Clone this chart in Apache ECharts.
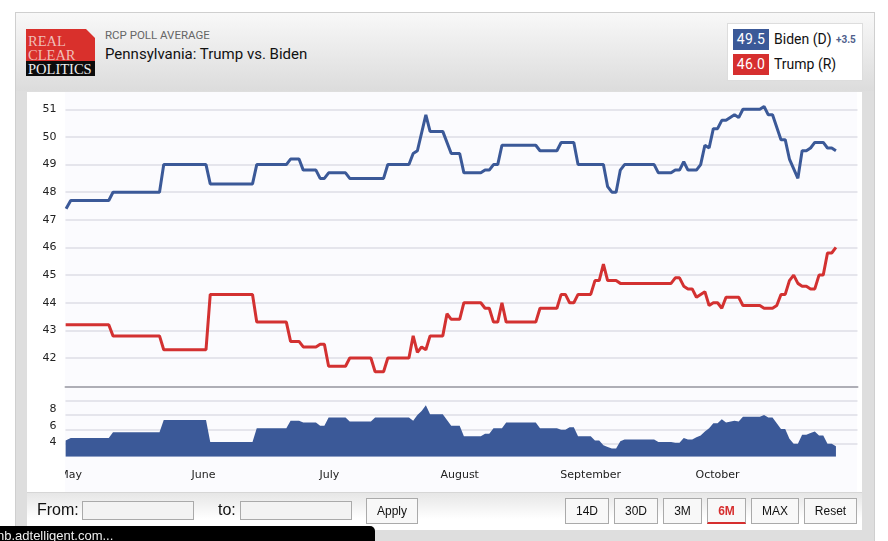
<!DOCTYPE html>
<html>
<head>
<meta charset="utf-8">
<title>Pennsylvania: Trump vs. Biden</title>
<script src="https://cdn.jsdelivr.net/npm/echarts@6/dist/echarts.min.js"></script>
<style>
  html, body { margin: 0; padding: 0; background: #fff; overflow: hidden; }
  #page { position: relative; width: 888px; height: 541px; overflow: hidden; font-family: Roboto, sans-serif; }
  #page div, #page span { position: absolute; box-sizing: border-box; white-space: nowrap; }
  #card { left: 15px; top: 12px; width: 860px; height: 540px; background: #dedede; border: 1px solid #cfcfcf; }
  #head { left: 16px; top: 13px; width: 858px; height: 78px; background: linear-gradient(#f8f8f8, #dcdcdc); }
  #panel { left: 27px; top: 92px; width: 835px; height: 400px; background: #fff; }
  #plotbg { left: 65px; top: 92px; width: 792px; height: 400px; background: #fbfbfe; }
  #foot { left: 27px; top: 492px; width: 835px; height: 38px; background: linear-gradient(#e6e6e6, #fff 70%); border-top: 1px solid #d6d6d6; }
  #chart { left: 0; top: 0; width: 888px; height: 541px; z-index: 1; }
  #maycover { left: 40px; top: 465px; width: 25px; height: 20px; background: #fff; z-index: 2; }
  #logo { left: 26px; top: 29px; width: 69px; height: 47px; background: linear-gradient(#d9302c 32px, #0c0c0c 32px); clip-path: polygon(0 0, 60px 0, 69px 9px, 69px 47px, 0 47px); font-family: "Liberation Serif", serif; font-size: 14.5px; color: #f0bdb8; }
  #logo span { left: 2px; line-height: 14px; }
  #sub { left: 105px; top: 28px; font-size: 11.5px; line-height: 14px; color: #666; }
  #title { left: 105px; top: 44px; font-size: 15px; line-height: 20px; color: #111; }
  #legend { left: 727px; top: 23px; width: 136px; height: 58px; background: #fff; border: 1px solid #ddd; z-index: 2; }
  .swatch { left: 5px; width: 36px; height: 21px; color: #fff; font-size: 14px; line-height: 21px; text-align: center; letter-spacing: 0.3px; }
  .cand { left: 46px; font-size: 14px; line-height: 21px; color: #111; }
  #lead { left: 108px; top: 9px; font-size: 10px; line-height: 14px; font-weight: bold; color: #4f608c; }
  #controls { left: 0; top: 0; width: 888px; height: 541px; z-index: 3; font-family: "Liberation Sans", sans-serif; }
  .lab { font-size: 16px; line-height: 20px; color: #111; top: 500px; }
  .inp { top: 501px; width: 112px; height: 19px; background: #f3f3f3; border: 1px solid #aaa; }
  .btn { top: 498px; height: 26px; background: #f8f8f8; border: 1px solid #aaa; font-size: 12px; line-height: 24px; text-align: center; color: #111; }
  #tip { left: 0; top: 526px; width: 375px; height: 20px; background: #000; border-radius: 0 5px 0 0; z-index: 4; color: #eee; font-family: "Liberation Sans", sans-serif; font-size: 13px; line-height: 19px; overflow: hidden; }
</style>
</head>
<body>
<div id="page">
  <div id="card"></div>
  <div id="head"></div>
  <div id="panel"></div>
  <div id="plotbg"></div>
  <div id="foot"></div>
  <div id="logo"><span style="top:5px">REAL</span><span style="top:19px">CLEAR</span><span style="top:33px;color:#eee">POLITICS</span></div>
  <div id="sub">RCP POLL AVERAGE</div>
  <div id="title">Pennsylvania: Trump vs. Biden</div>
  <div id="legend">
    <div class="swatch" style="top:5px;background:#3b5998">49.5</div>
    <div class="cand" style="top:5px">Biden (D)</div>
    <div id="lead">+3.5</div>
    <div class="swatch" style="top:30px;background:#d62f2f">46.0</div>
    <div class="cand" style="top:30px">Trump (R)</div>
  </div>
  <div id="chart"></div>
  <div id="maycover"></div>
  <div id="controls">
    <div class="lab" style="left:37px">From:</div>
    <div class="inp" style="left:82px"></div>
    <div class="lab" style="left:218px">to:</div>
    <div class="inp" style="left:240px"></div>
    <div class="btn" style="left:366px;width:52px">Apply</div>
    <div class="btn" style="left:565px;width:44px">14D</div>
    <div class="btn" style="left:614px;width:44px">30D</div>
    <div class="btn" style="left:663px;width:39px">3M</div>
    <div class="btn" style="left:707px;width:39px;color:#d62f2f;font-weight:bold;border-bottom:2px solid #d62f2f">6M</div>
    <div class="btn" style="left:751px;width:48px">MAX</div>
    <div class="btn" style="left:804px;width:53px">Reset</div>
  </div>
  <div id="tip"><span style="left:-3px;top:0">nb.adtelligent.com...</span></div>
</div>
<script>
// x values are days counted from the first poll point (Apr 30)
var monthDays = [1, 32.4, 62.2, 93, 124, 154];
var monthNames = ["May", "June", "July", "August", "September", "October"];
var mainTicks = [42, 43, 44, 45, 46, 47, 48, 49, 50, 51];
var spreadTicks = [4, 6, 8];
var spreadGrid = [3.75, 5.5, 7.3, 9.1];

var bidenDays = [-0.1, 1, 10, 11, 22, 23, 33, 34, 44, 45, 52, 53, 55, 56, 59, 60, 61, 62, 66, 67, 75, 76, 81, 82, 83, 85, 86, 89, 91, 93, 94, 98, 99, 100, 101, 102, 103, 111, 112, 116, 117, 120, 121, 127, 128, 129, 130, 131, 132, 139, 140, 143, 144, 145, 146, 147, 149, 150, 151, 152, 153, 154, 155, 156, 158, 159, 160, 164, 165, 166, 167, 169, 170, 171, 173, 174, 175, 176, 177, 179, 180, 181, 182];
var bidenValues = [47.4, 47.7, 47.7, 48, 48, 49, 49, 48.3, 48.3, 49, 49, 49.2, 49.2, 48.8, 48.8, 48.5, 48.5, 48.7, 48.7, 48.5, 48.5, 49, 49, 49.4, 49.5, 50.8, 50.2, 50.2, 49.4, 49.4, 48.7, 48.7, 48.8, 48.8, 49, 49, 49.7, 49.7, 49.5, 49.5, 49.8, 49.8, 49, 49, 48.2, 48, 48, 48.8, 49, 49, 48.7, 48.7, 48.8, 48.8, 49.1, 48.8, 48.8, 49, 49.7, 49.6, 50.3, 50.3, 50.6, 50.6, 50.8, 50.7, 51, 51, 51.1, 50.8, 50.8, 49.9, 49.9, 49.2, 48.5, 49.5, 49.5, 49.6, 49.8, 49.8, 49.6, 49.6, 49.5];

var trumpDays = [-0.2, 10, 11, 22, 23, 33, 34, 44, 45, 52, 53, 55, 56, 59, 60, 61, 62, 66, 67, 72, 73, 75, 76, 81, 82, 83, 84, 85, 86, 89, 90, 91, 93, 94, 98, 99, 100, 101, 102, 103, 104, 111, 112, 116, 117, 118, 119, 120, 121, 124, 125, 126, 127, 128, 130, 131, 143, 144, 145, 146, 147, 148, 149, 151, 152, 153, 154, 155, 156, 159, 160, 164, 165, 167, 168, 169, 170, 171, 172, 173, 174, 175, 176, 177, 178, 179, 180, 181, 182];
var trumpValues = [43.2, 43.2, 42.8, 42.8, 42.3, 42.3, 44.3, 44.3, 43.3, 43.3, 42.6, 42.6, 42.4, 42.4, 42.5, 42.5, 41.7, 41.7, 42, 42, 41.5, 41.5, 42, 42, 42.8, 42.2, 42.4, 42.3, 42.8, 42.8, 43.6, 43.4, 43.4, 44, 44, 43.8, 43.8, 43.3, 43.3, 44, 43.3, 43.3, 43.8, 43.8, 44.3, 44.3, 44, 44, 44.3, 44.3, 44.8, 44.8, 45.4, 44.8, 44.8, 44.7, 44.7, 44.9, 44.9, 44.6, 44.5, 44.5, 44.2, 44.4, 43.9, 44, 44, 43.8, 44.2, 44.2, 43.9, 43.9, 43.8, 43.8, 43.9, 44.3, 44.3, 44.8, 45, 44.7, 44.6, 44.6, 44.5, 44.5, 45, 45, 45.8, 45.8, 46];

var spreadDays = [-0.2, 1, 10, 11, 22, 23, 33, 34, 44, 45, 52, 53, 55, 56, 59, 60, 61, 62, 66, 67, 72, 73, 81, 82, 83, 84, 85, 86, 89, 91, 93, 94, 98, 99, 100, 101, 102, 103, 104, 111, 112, 116, 117, 118, 119, 120, 121, 124, 125, 126, 127, 128, 129, 130, 131, 132, 139, 140, 143, 144, 145, 146, 147, 148, 149, 150, 151, 152, 153, 154, 155, 156, 158, 159, 160, 164, 165, 166, 167, 169, 170, 171, 172, 173, 174, 175, 176, 177, 178, 179, 180, 181, 182];
var spreadValues = [4.2, 4.5, 4.5, 5.2, 5.2, 6.7, 6.7, 4, 4, 5.7, 5.7, 6.6, 6.6, 6.4, 6.4, 6, 6, 7, 7, 6.5, 6.5, 7, 7, 6.6, 7.3, 7.8, 8.5, 7.4, 7.4, 6, 6, 4.7, 4.7, 5, 5, 5.7, 5.7, 5.7, 6.4, 6.4, 5.7, 5.7, 5.5, 5.5, 5.8, 5.8, 4.7, 4.7, 4.2, 4.2, 3.6, 3.4, 3.2, 3.2, 4.1, 4.3, 4.3, 4, 4, 3.9, 3.9, 4.5, 4.3, 4.3, 4.6, 4.8, 5.3, 5.7, 6.3, 6.3, 6.8, 6.4, 6.6, 6.5, 7.1, 7.1, 7.3, 7, 7, 5.6, 5.6, 4.4, 3.8, 3.8, 4.9, 4.9, 5.1, 5.3, 4.8, 4.8, 3.8, 3.8, 3.5];

var blue = "#3b5998";
var red = "#d33131";
var gridColor = "#dedee6";

var pairs = function (days, values) {
  return days.map(function (day, index) {
    return [day, values[index]];
  });
};

var chart = echarts.init(document.getElementById("chart"), null, { renderer: "canvas" });

var labelStyle = {
  fontFamily: "DejaVu Sans",
  fontSize: 11,
  color: "#222",
};

chart.setOption({
  animation: false,
  backgroundColor: "transparent",
  grid: [
    { left: 65.5, right: 30.5, top: 109.3, height: 277.7 },
    { left: 65.5, right: 30.5, top: 400.3, height: 56.4 },
  ],
  xAxis: [
    {
      type: "value",
      gridIndex: 0,
      min: -0.236,
      max: 187.1,
      axisLine: { show: true, onZero: false, lineStyle: { color: "#aeaeb6", width: 2 } },
      axisTick: { show: false },
      axisLabel: { show: false },
      splitLine: { show: false },
    },
    {
      type: "value",
      gridIndex: 1,
      min: -0.236,
      max: 187.1,
      axisLine: { show: false },
      axisTick: { show: false, customValues: monthDays },
      splitLine: { show: false },
      axisLabel: Object.assign({}, labelStyle, {
        customValues: monthDays,
        margin: 13,
        hideOverlap: false,
        formatter: function (value) {
          return monthNames[monthDays.indexOf(value)];
        },
      }),
    },
  ],
  yAxis: [
    {
      type: "value",
      gridIndex: 0,
      min: 40.95,
      max: 51,
      axisLine: { show: false },
      axisTick: { show: false, customValues: mainTicks },
      splitLine: { show: true, lineStyle: { color: gridColor, width: 1.5 } },
      axisLabel: Object.assign({}, labelStyle, { customValues: mainTicks, margin: 9, padding: [2, 0, 0, 0] }),
    },
    {
      type: "value",
      gridIndex: 1,
      min: 2.21,
      max: 9.1,
      axisLine: { show: false },
      axisTick: { show: false, customValues: spreadGrid },
      splitLine: { show: true, lineStyle: { color: gridColor, width: 1.5 } },
      axisLabel: Object.assign({}, labelStyle, { customValues: spreadTicks, margin: 9, padding: [2, 0, 0, 0] }),
    },
  ],
  series: [
    {
      name: "Biden (D)",
      type: "line",
      xAxisIndex: 0,
      yAxisIndex: 0,
      clip: false,
      showSymbol: false,
      lineStyle: { color: blue, width: 3 },
      data: pairs(bidenDays, bidenValues),
    },
    {
      name: "Trump (R)",
      type: "line",
      xAxisIndex: 0,
      yAxisIndex: 0,
      clip: false,
      showSymbol: false,
      lineStyle: { color: red, width: 3 },
      data: pairs(trumpDays, trumpValues),
    },
    {
      name: "Spread",
      type: "line",
      xAxisIndex: 1,
      yAxisIndex: 1,
      showSymbol: false,
      lineStyle: { width: 0 },
      areaStyle: { color: blue, opacity: 1 },
      data: pairs(spreadDays, spreadValues),
    },
  ],
});
</script>
</body>
</html>
